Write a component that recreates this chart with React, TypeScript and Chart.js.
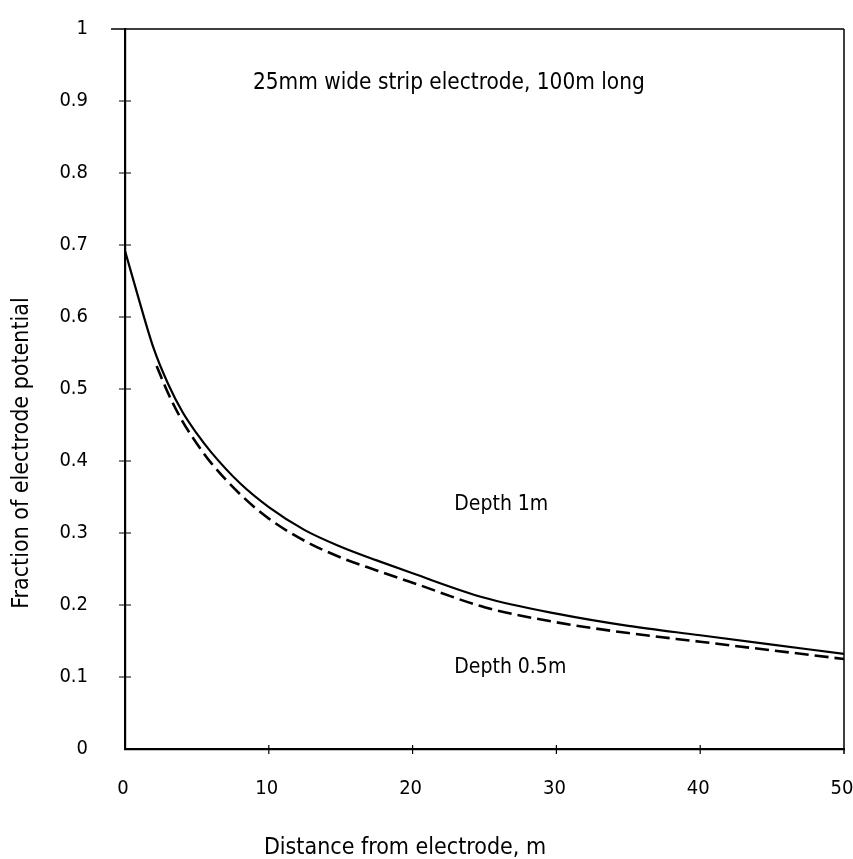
import React, { useEffect, useRef } from "react";
import { Chart, registerables } from "chart.js";

Chart.register(...registerables);

// ---- data ----
const depth1mDistance = [0, 1, 2, 3, 4, 5, 6, 8, 10, 12.5, 15, 17.5, 20, 25, 30, 35, 40, 45, 50];
const depth1mFraction = [0.692, 0.622, 0.556, 0.507, 0.468, 0.438, 0.412, 0.369, 0.336, 0.304, 0.281, 0.262, 0.244, 0.21, 0.188, 0.171, 0.158, 0.145, 0.132];
const depth05mDistance = [2.2, 3, 4, 5, 6, 8, 10, 12.5, 15, 17.5, 20, 25, 30, 35, 40, 45, 50];
const depth05mFraction = [0.532, 0.494, 0.455, 0.424, 0.397, 0.354, 0.32, 0.289, 0.266, 0.248, 0.231, 0.197, 0.176, 0.161, 0.149, 0.137, 0.125];
const seriesLabels = ["Depth 1m", "Depth 0.5m"];

const xTickValues = [0, 10, 20, 30, 40, 50];
const yTickValues = [0, 0.1, 0.2, 0.3, 0.4, 0.5, 0.6, 0.7, 0.8, 0.9, 1];
const yTickLabels = ["0", "0.1", "0.2", "0.3", "0.4", "0.5", "0.6", "0.7", "0.8", "0.9", "1"];

const noteTexts = ["25mm wide strip electrode, 100m long", "Depth 1m", "Depth 0.5m"];
const noteX = [8.9, 22.9, 22.9];
const noteY = [0.925, 0.339, 0.1125];
const noteSizes = [22.4, 21, 21];

const xAxisTitle = "Distance from electrode, m";
const yAxisTitle = "Fraction of electrode potential";

const FONT = "'DejaVu Sans Condensed', 'DejaVu Sans', sans-serif";

const framePlugin = {
  id: "frame",
  afterDraw(chart: any) {
    const { ctx, chartArea } = chart;
    const xs = chart.scales.x;
    const ys = chart.scales.y;
    const { left, right, top, bottom } = chartArea;
    ctx.save();
    ctx.strokeStyle = "#000";
    // top & right border
    ctx.lineWidth = 1.5;
    ctx.beginPath();
    ctx.moveTo(left - 14, top);
    ctx.lineTo(right, top);
    ctx.moveTo(right, top);
    ctx.lineTo(right, bottom + 5);
    ctx.stroke();
    // ticks crossing axes
    ctx.lineWidth = 1.2;
    ctx.beginPath();
    yTickValues.forEach((v) => {
      if (v === 0 || v === 1) return;
      const py = ys.getPixelForValue(v);
      ctx.moveTo(left - 6, py);
      ctx.lineTo(left + 6, py);
    });
    xTickValues.forEach((v) => {
      if (v === 0 || v === 50) return;
      const px = xs.getPixelForValue(v);
      ctx.moveTo(px, bottom - 4);
      ctx.lineTo(px, bottom + 5);
    });
    ctx.stroke();

    // notes
    ctx.fillStyle = "#000";
    ctx.textAlign = "left";
    ctx.textBaseline = "middle";
    noteTexts.forEach((t, i) => {
      ctx.font = `${noteSizes[i]}px ${FONT}`;
      ctx.fillText(t, xs.getPixelForValue(noteX[i]), ys.getPixelForValue(noteY[i]));
    });

    // axis titles
    ctx.font = `23px ${FONT}`;
    ctx.textAlign = "center";
    ctx.textBaseline = "middle";
    ctx.fillText(xAxisTitle, left + 280, 848);
    ctx.save();
    ctx.translate(22, (top + bottom) / 2 + 64);
    ctx.rotate(-Math.PI / 2);
    ctx.fillText(yAxisTitle, 0, 0);
    ctx.restore();
    ctx.restore();
  },
};

export default function App() {
  const ref = useRef<HTMLCanvasElement | null>(null);
  useEffect(() => {
    document.body.style.margin = "0";
    const canvas = ref.current;
    if (!canvas) return;
    const chart = new Chart(canvas, {
      type: "line",
      data: {
        datasets: [
          {
            label: seriesLabels[0],
            data: depth1mDistance.map((x, i) => ({ x, y: depth1mFraction[i] })),
            borderColor: "#000",
            borderWidth: 2.2,
            pointRadius: 0,
            cubicInterpolationMode: "monotone",
            fill: false,
          },
          {
            label: seriesLabels[1],
            data: depth05mDistance.map((x, i) => ({ x, y: depth05mFraction[i] })),
            borderColor: "#000",
            borderWidth: 2.6,
            borderDash: [14, 6],
            pointRadius: 0,
            cubicInterpolationMode: "monotone",
            fill: false,
          },
        ],
      },
      options: {
        responsive: false,
        animation: false,
        layout: { padding: { top: 29, right: 9, left: 0, bottom: 0 } },
        plugins: { legend: { display: false }, tooltip: { enabled: false } },
        scales: {
          x: {
            type: "linear",
            min: 0,
            max: 50,
            grid: { display: false, drawTicks: false },
            border: { display: true, color: "#000", width: 2.2 },
            afterBuildTicks: (s: any) => {
              s.ticks = xTickValues.map((v) => ({ value: v }));
            },
            afterFit: (s: any) => {
              s.height = 110;
              s.paddingLeft = 0;
              s.paddingRight = 0;
            },
            ticks: {
              color: "#000",
              font: { size: 20, family: FONT },
              padding: 28,
              maxRotation: 0,
              labelOffset: -2,
              callback: (v: any) => String(v),
            },
          },
          y: {
            type: "linear",
            min: 0,
            max: 1,
            grid: { display: false, drawTicks: false },
            border: { display: true, color: "#000", width: 2.2 },
            afterBuildTicks: (s: any) => {
              s.ticks = yTickValues.map((v) => ({ value: v }));
            },
            afterFit: (s: any) => {
              s.width = 125;
              s.paddingTop = 0;
              s.paddingBottom = 0;
            },
            ticks: {
              color: "#000",
              font: { size: 20, family: FONT },
              padding: 37,
              callback: (v: any) => {
                const i = yTickValues.findIndex((t) => Math.abs(t - v) < 1e-9);
                return i >= 0 ? yTickLabels[i] : "";
              },
            },
          },
        },
      },
      plugins: [framePlugin],
    } as any);
    return () => chart.destroy();
  }, []);
  return (
    <div style={{ width: 853, height: 859 }}>
      <canvas ref={ref} width={853} height={859} style={{ display: "block" }} />
    </div>
  );
}
